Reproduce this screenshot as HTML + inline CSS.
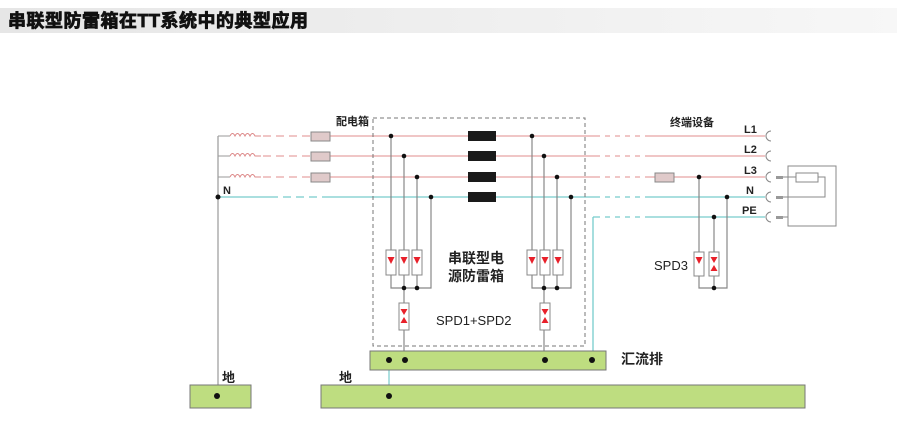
<!DOCTYPE html>
<html><head><meta charset="utf-8"><style>
body{margin:0;background:#fff;width:897px;height:424px;overflow:hidden}
svg{display:block}
text{font-family:"Liberation Sans","Noto Sans CJK SC",sans-serif}
</style></head><body>
<svg width="897" height="424" viewBox="0 0 897 424">
<defs>
<linearGradient id="tb" x1="0" x2="1"><stop offset="0" stop-color="#e6e6e6"/><stop offset="1" stop-color="#f7f7f7"/></linearGradient>
<g id="d"><path d="M-3.5,-4 L3.5,-4 L0,3 Z" fill="#e8202a"/></g>
<g id="bt"><path d="M-3.5,-7 L3.5,-7 L0,-1 Z M-3.5,7 L3.5,7 L0,1 Z" fill="#e8202a"/></g>
</defs>
<rect x="0" y="8" width="897" height="25" fill="url(#tb)"/>
<text x="8" y="27" font-size="18" font-weight="bold" fill="#111" stroke="#111" stroke-width="0.8" letter-spacing="0.5">串联型防雷箱在TT系统中的典型应用</text>

<line x1="218" y1="136" x2="218" y2="396" stroke="#999" stroke-width="1.2"/>
<g stroke="#999" stroke-width="1"><line x1="218" y1="136" x2="230" y2="136"/><line x1="218" y1="156" x2="230" y2="156"/><line x1="218" y1="177" x2="230" y2="177"/></g>
<g fill="none" stroke="#d88" stroke-width="1">
<path d="M230,136 q2.5,-5 5,0 q2.5,-5 5,0 q2.5,-5 5,0 q2.5,-5 5,0 q2.5,-5 5,0 h6"/>
<path d="M230,156 q2.5,-5 5,0 q2.5,-5 5,0 q2.5,-5 5,0 q2.5,-5 5,0 q2.5,-5 5,0 h6"/>
<path d="M230,177 q2.5,-5 5,0 q2.5,-5 5,0 q2.5,-5 5,0 q2.5,-5 5,0 q2.5,-5 5,0 h6"/>
</g>
<g stroke="#e8a4a4" stroke-width="1.3">
<line x1="263" y1="136" x2="311" y2="136" stroke-dasharray="8,5"/>
<line x1="263" y1="156" x2="311" y2="156" stroke-dasharray="8,5"/>
<line x1="263" y1="177" x2="311" y2="177" stroke-dasharray="8,5"/>
<line x1="330" y1="136" x2="765" y2="136"/>
<line x1="330" y1="156" x2="765" y2="156"/>
<line x1="330" y1="177" x2="765" y2="177"/>
</g>
<line x1="218" y1="197" x2="270" y2="197" stroke="#7cc" stroke-width="1.3"/>
<line x1="270" y1="197" x2="330" y2="197" stroke="#7cc" stroke-width="1.3" stroke-dasharray="8,5"/>
<line x1="330" y1="197" x2="765" y2="197" stroke="#7cc" stroke-width="1.3"/>
<line x1="593" y1="217" x2="765" y2="217" stroke="#7cc" stroke-width="1.3"/>
<g stroke="#fff" stroke-width="2"><line x1="600" y1="136" x2="645" y2="136" stroke-dasharray="5,5"/><line x1="600" y1="156" x2="645" y2="156" stroke-dasharray="5,5"/><line x1="600" y1="177" x2="645" y2="177" stroke-dasharray="5,5"/><line x1="600" y1="197" x2="645" y2="197" stroke-dasharray="5,5"/><line x1="600" y1="217" x2="645" y2="217" stroke-dasharray="5,5"/></g>
<line x1="593" y1="217" x2="593" y2="360" stroke="#7cc" stroke-width="1.3"/>
<g fill="#e0caca" stroke="#888" stroke-width="1">
<rect x="311" y="132" width="19" height="9"/><rect x="311" y="152" width="19" height="9"/><rect x="311" y="173" width="19" height="9"/>
<rect x="655" y="173" width="19" height="9"/>
</g>
<rect x="373" y="118" width="212" height="228" fill="none" stroke="#777" stroke-width="1" stroke-dasharray="4,3"/>
<g fill="#1a1a1a"><rect x="468" y="131" width="28" height="10"/><rect x="468" y="151" width="28" height="10"/><rect x="468" y="172" width="28" height="10"/><rect x="468" y="192" width="28" height="10"/></g>
<g stroke="#888" stroke-width="1.2" fill="none">
<path d="M391,136V288H431V197 M404,156V360 M417,177V288"/>
<path d="M532,136V288H571V197 M544,156V360 M557,177V288"/>
<path d="M699,177V288H727V197 M714,217V288"/>
<line x1="389" y1="360" x2="389" y2="396" stroke="#7cc"/>
</g>
<g fill="#fff" stroke="#888" stroke-width="1">
<rect x="386" y="250" width="10" height="25"/><rect x="399" y="250" width="10" height="25"/><rect x="412" y="250" width="10" height="25"/>
<rect x="399" y="303" width="10" height="27"/>
<rect x="527" y="250" width="10" height="25"/><rect x="540" y="250" width="10" height="25"/><rect x="553" y="250" width="10" height="25"/>
<rect x="540" y="303" width="10" height="27"/>
<rect x="694" y="252" width="10" height="24"/><rect x="709" y="252" width="10" height="24"/>
</g>
<use href="#d" x="391" y="261"/><use href="#d" x="404" y="261"/><use href="#d" x="417" y="261"/>
<use href="#d" x="532" y="261"/><use href="#d" x="545" y="261"/><use href="#d" x="558" y="261"/>
<use href="#d" x="699" y="261"/>
<use href="#bt" x="404" y="316"/><use href="#bt" x="545" y="316"/><use href="#bt" x="714" y="264"/>
<g fill="#111">
<circle cx="218" cy="197" r="2.5"/>
<circle cx="391" cy="136" r="2.3"/><circle cx="404" cy="156" r="2.3"/><circle cx="417" cy="177" r="2.3"/><circle cx="431" cy="197" r="2.3"/>
<circle cx="532" cy="136" r="2.3"/><circle cx="544" cy="156" r="2.3"/><circle cx="557" cy="177" r="2.3"/><circle cx="571" cy="197" r="2.3"/>
<circle cx="404" cy="288" r="2.3"/><circle cx="417" cy="288" r="2.3"/><circle cx="544" cy="288" r="2.3"/><circle cx="557" cy="288" r="2.3"/>
<circle cx="699" cy="177" r="2.3"/><circle cx="727" cy="197" r="2.3"/><circle cx="714" cy="217" r="2.3"/><circle cx="714" cy="288" r="2.3"/>
</g>
<g fill="none" stroke="#888" stroke-width="1">
<path d="M771,131 a5,5 0 0 0 0,10"/><path d="M771,151 a5,5 0 0 0 0,10"/><path d="M771,172 a5,5 0 0 0 0,10"/><path d="M771,192 a5,5 0 0 0 0,10"/><path d="M771,212 a5,5 0 0 0 0,10"/>
<rect x="788" y="166" width="48" height="60"/>
<rect x="796" y="173" width="22" height="9"/>
<path d="M783,177H796 M818,177H825V197H783 M783,217H788"/>
</g>
<g fill="#999"><rect x="776" y="176" width="7" height="3"/><rect x="776" y="196" width="7" height="3"/><rect x="776" y="216" width="7" height="3"/></g>
<g fill="#bedd80" stroke="#777" stroke-width="1">
<rect x="370" y="351" width="236" height="19"/>
<rect x="190" y="385" width="61" height="23"/>
<rect x="321" y="385" width="484" height="23"/>
</g>
<g fill="#111">
<circle cx="389" cy="360" r="3"/><circle cx="405" cy="360" r="3"/><circle cx="545" cy="360" r="3"/><circle cx="592" cy="360" r="3"/>
<circle cx="217" cy="396" r="3"/><circle cx="389" cy="396" r="3"/>
</g>
<g font-weight="bold" fill="#222">
<text x="336" y="125" font-size="11">配电箱</text>
<text x="670" y="126" font-size="11">终端设备</text>
<text x="744" y="133" font-size="11">L1</text>
<text x="744" y="153" font-size="11">L2</text>
<text x="744" y="174" font-size="11">L3</text>
<text x="746" y="194" font-size="11">N</text>
<text x="742" y="214" font-size="11">PE</text>
<text x="223" y="194" font-size="11">N</text>
<text x="448" y="263" font-size="14">串联型电</text>
<text x="448" y="281" font-size="14">源防雷箱</text>
<text x="621" y="364" font-size="14">汇流排</text>
<text x="222" y="382" font-size="13">地</text>
<text x="339" y="382" font-size="13">地</text>
</g>
<text x="436" y="325" font-size="13" fill="#222">SPD1+SPD2</text>
<text x="654" y="270" font-size="13" fill="#222">SPD3</text>
</svg>
</body></html>
